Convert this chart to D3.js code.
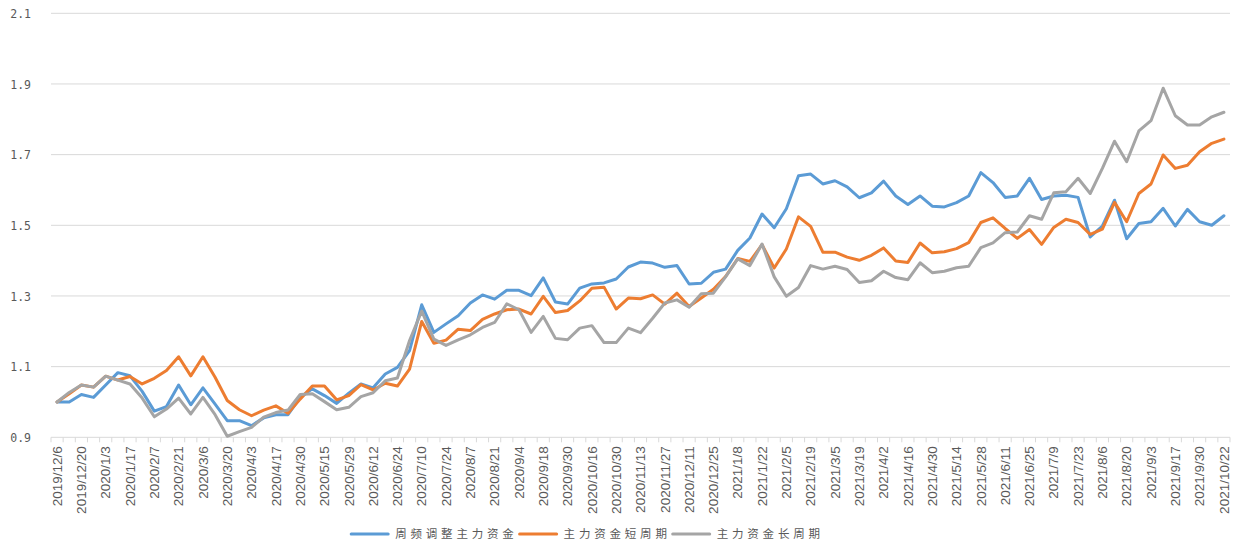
<!DOCTYPE html>
<html>
<head>
<meta charset="utf-8">
<script src="https://cdn.jsdelivr.net/npm/d3@7/dist/d3.min.js"></script>
<style>
html,body{margin:0;padding:0;background:#fff;}
svg{display:block;}
</style>
</head>
<body>
<svg id="chart" width="1248" height="552"></svg>
<script>
const dates = ["2019/12/6","2019/12/13","2019/12/20","2019/12/27","2020/1/3","2020/1/10","2020/1/17","2020/1/23","2020/2/7","2020/2/14",
"2020/2/21","2020/2/28","2020/3/6","2020/3/13","2020/3/20","2020/3/27","2020/4/3","2020/4/10","2020/4/17","2020/4/24",
"2020/4/30","2020/5/8","2020/5/15","2020/5/22","2020/5/29","2020/6/5","2020/6/12","2020/6/19","2020/6/24","2020/7/3",
"2020/7/10","2020/7/17","2020/7/24","2020/7/31","2020/8/7","2020/8/14","2020/8/21","2020/8/28","2020/9/4","2020/9/11",
"2020/9/18","2020/9/25","2020/9/30","2020/10/9","2020/10/16","2020/10/23","2020/10/30","2020/11/6","2020/11/13","2020/11/20",
"2020/11/27","2020/12/4","2020/12/11","2020/12/18","2020/12/25","2020/12/31","2021/1/8","2021/1/15","2021/1/22","2021/1/29",
"2021/2/5","2021/2/10","2021/2/19","2021/2/26","2021/3/5","2021/3/12","2021/3/19","2021/3/26","2021/4/2","2021/4/9",
"2021/4/16","2021/4/23","2021/4/30","2021/5/7","2021/5/14","2021/5/21","2021/5/28","2021/6/4","2021/6/11","2021/6/18",
"2021/6/25","2021/7/2","2021/7/9","2021/7/16","2021/7/23","2021/7/30","2021/8/6","2021/8/13","2021/8/20","2021/8/27",
"2021/9/3","2021/9/10","2021/9/17","2021/9/24","2021/9/30","2021/10/15","2021/10/22"];

const seriesNames = ["周频调整主力资金","主力资金短周期","主力资金长周期"];
const seriesColors = ["#5B9BD5","#ED7D31","#A5A5A5"];

const weeklyAdjusted = [1.0,1.0,1.021,1.013,1.048,1.083,1.074,1.030,0.974,0.987,
1.048,0.992,1.040,0.994,0.947,0.947,0.933,0.955,0.964,0.964,
1.013,1.037,1.018,0.996,1.025,1.051,1.040,1.079,1.098,1.145,
1.275,1.197,1.221,1.244,1.280,1.303,1.291,1.316,1.316,1.301,
1.351,1.283,1.277,1.322,1.334,1.337,1.348,1.382,1.396,1.393,
1.381,1.386,1.334,1.336,1.367,1.376,1.429,1.464,1.532,1.493,
1.547,1.640,1.645,1.617,1.626,1.609,1.578,1.592,1.625,1.583,
1.559,1.583,1.554,1.552,1.564,1.583,1.649,1.621,1.579,1.583,
1.633,1.573,1.583,1.585,1.579,1.467,1.498,1.571,1.462,1.505,
1.510,1.548,1.498,1.545,1.510,1.500,1.527];

const shortCycle = [1.0,1.023,1.048,1.042,1.073,1.062,1.072,1.051,1.067,1.089,
1.128,1.074,1.128,1.070,1.004,0.978,0.961,0.977,0.989,0.968,
1.008,1.045,1.045,1.006,1.018,1.049,1.034,1.053,1.045,1.093,
1.228,1.166,1.175,1.206,1.202,1.234,1.249,1.261,1.263,1.249,
1.299,1.253,1.259,1.286,1.322,1.325,1.263,1.294,1.292,1.303,
1.277,1.308,1.270,1.294,1.319,1.355,1.406,1.398,1.445,1.379,
1.433,1.524,1.497,1.424,1.424,1.410,1.401,1.415,1.436,1.399,
1.395,1.450,1.422,1.425,1.434,1.451,1.508,1.521,1.491,1.463,
1.488,1.446,1.494,1.517,1.508,1.474,1.489,1.565,1.510,1.590,
1.617,1.699,1.661,1.670,1.708,1.732,1.744];

const longCycle = [1.0,1.027,1.048,1.042,1.073,1.062,1.051,1.011,0.958,0.980,
1.011,0.966,1.013,0.964,0.903,0.916,0.928,0.957,0.970,0.977,
1.021,1.023,1.001,0.978,0.985,1.015,1.026,1.060,1.068,1.174,
1.257,1.178,1.160,1.176,1.190,1.211,1.225,1.278,1.261,1.197,
1.242,1.180,1.176,1.209,1.216,1.168,1.168,1.209,1.196,1.237,
1.280,1.289,1.268,1.306,1.308,1.354,1.405,1.386,1.447,1.354,
1.299,1.324,1.386,1.376,1.384,1.375,1.338,1.343,1.370,1.352,
1.346,1.394,1.366,1.370,1.380,1.384,1.437,1.450,1.479,1.481,
1.527,1.517,1.592,1.595,1.633,1.590,1.661,1.738,1.680,1.767,
1.796,1.888,1.810,1.784,1.784,1.807,1.820];

const yTicks = [0.9,1.1,1.3,1.5,1.7,1.9,2.1];
const xTickLabels = dates.filter((d,i)=>i%2===0);

const allSeries = [weeklyAdjusted, shortCycle, longCycle];

const svg = d3.select("#chart");
const plotLeft = 51, plotRight = 1230, plotTop = 13.3, plotBottom = 437.3;

const x = d3.scaleBand().domain(dates).range([plotLeft, plotRight]).padding(0);
const y = d3.scaleLinear().domain([0.9, 2.1]).range([plotBottom, plotTop]);
const cx = d => x(d) + x.bandwidth()/2;

// gridlines
svg.append("g").selectAll("line").data(yTicks.slice(1)).join("line")
  .attr("x1", plotLeft).attr("x2", plotRight)
  .attr("y1", d=>y(d)).attr("y2", d=>y(d))
  .attr("stroke", "#D9D9D9").attr("stroke-width", 1);

// y labels
const yAxis = d3.axisLeft(y).tickValues(yTicks).tickSize(0).tickPadding(0)
  .tickFormat(d3.format(".1f"));
const gy = svg.append("g").attr("transform", "translate(31,0)").call(yAxis);
gy.select(".domain").remove();
gy.selectAll("text").attr("fill", "#595959")
  .style("font-family", "'DejaVu Sans Mono','Liberation Mono',monospace").style("font-size", "11.5px")
  .attr("dy", "0.36em");

// x axis line
svg.append("line").attr("x1", plotLeft).attr("x2", plotRight).attr("y1", plotBottom).attr("y2", plotBottom)
  .attr("stroke", "#D9D9D9").attr("stroke-width", 1);
// x tick marks at band boundaries
const bounds = dates.map(d=>x(d)).concat([plotRight]);
svg.append("g").selectAll("line").data(bounds).join("line")
  .attr("x1", d=>d).attr("x2", d=>d).attr("y1", plotBottom).attr("y2", plotBottom+5)
  .attr("stroke", "#D9D9D9").attr("stroke-width", 1);

// x labels
const xAxis = d3.axisBottom(x).tickValues(xTickLabels).tickSize(0).tickPadding(0);
const gx = svg.append("g").attr("transform", `translate(0,${plotBottom})`).call(xAxis);
gx.select(".domain").remove();
gx.selectAll("text")
  .attr("fill", "#595959")
  .style("font-family", "'Liberation Sans Narrow','Arial Narrow','Liberation Sans',sans-serif")
  .style("font-size", "13.5px")
  .attr("text-anchor", "end")
  .attr("transform", "rotate(-90)")
  .attr("x", -9).attr("y", 0).attr("dy", "0.35em");

// lines
const line = d3.line().x((v,i)=>cx(dates[i])).y(v=>y(v));
svg.append("g").selectAll("path").data(allSeries).join("path")
  .attr("d", d=>line(d))
  .attr("fill", "none")
  .attr("stroke", (d,i)=>seriesColors[i])
  .attr("stroke-width", 3)
  .attr("stroke-linejoin", "round")
  .attr("stroke-linecap", "round");

// legend
const legend = svg.append("g");
let lx = 0;
seriesNames.forEach((name,i)=>{
  const g = legend.append("g");
  g.append("line").attr("x1", 0).attr("x2", 37).attr("y1", 0).attr("y2", 0)
    .attr("stroke", seriesColors[i]).attr("stroke-width", 3).attr("stroke-linecap","round");
  const t = g.append("text").attr("x", 44).attr("y", 0).attr("dy", "0.36em")
    .attr("fill", "#595959")
    .style("font-family", "'Noto Sans CJK SC', sans-serif")
    .style("font-size", "11.5px").style("letter-spacing", "3.8px")
    .text(name);
  const w = 44 + t.node().getComputedTextLength();
  g.attr("transform", `translate(${lx},0)`);
  lx += w + 2;
});
const total = lx - 2;
legend.attr("transform", `translate(${587.5 - total/2},534)`);
</script>
</body>
</html>
